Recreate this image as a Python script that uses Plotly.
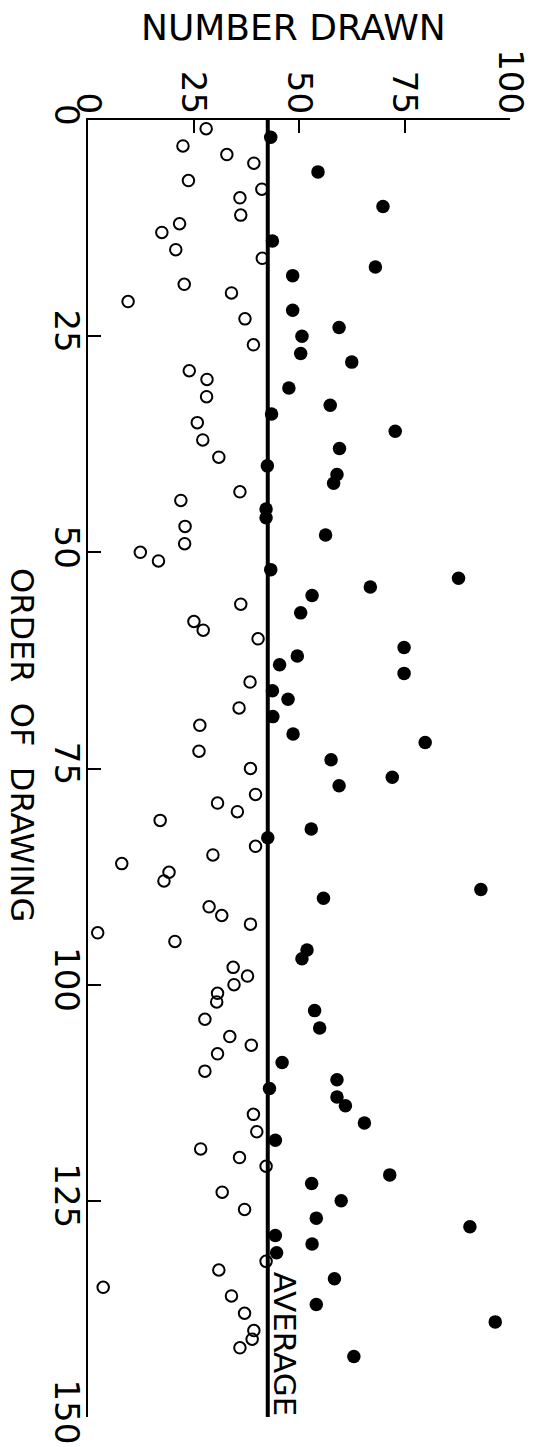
import plotly.graph_objects as go

# Order of drawing (1..143) and the number drawn at each draw
ORDER = list(range(1, 144))
NUMBER = [
    28.0, 43.3, 22.5, 32.9, 39.3, 54.5, 23.8, 41.2, 36.0, 69.9,
    36.2, 21.7, 17.5, 43.7, 20.8, 41.3, 68.1, 48.5, 22.8, 34.0,
    9.5, 48.5, 37.2, 59.5, 50.7, 39.2, 50.4, 62.5, 24.0, 28.2,
    47.6, 28.1, 57.4, 43.5, 25.9, 72.8, 27.2, 59.6, 31.0, 42.5,
    59.0, 58.2, 36.0, 22.0, 42.2, 42.2, 23.0, 56.3, 22.9, 12.4,
    16.7, 43.3, 87.8, 66.9, 53.1, 36.2, 50.4, 25.1, 27.3, 40.3,
    74.9, 49.6, 45.4, 74.9, 38.4, 43.7, 47.4, 35.8, 43.8, 26.5,
    48.6, 79.9, 26.3, 57.6, 38.5, 72.1, 59.5, 39.7, 30.7, 35.4,
    17.1, 52.9, 42.6, 39.7, 29.6, 8.0, 19.2, 18.0, 93.1, 55.8,
    28.7, 31.7, 38.5, 2.3, 20.6, 51.9, 50.7, 34.4, 37.8, 34.6,
    30.7, 30.5, 53.7, 27.7, 54.9, 33.6, 38.7, 30.7, 46.0, 27.7,
    59.0, 43.0, 59.0, 61.0, 39.2, 65.5, 40.0, 44.4, 26.7, 35.9,
    42.2, 71.5, 53.0, 31.8, 60.0, 37.1, 54.1, 90.5, 44.4, 53.1,
    44.7, 42.2, 31.0, 58.4, 3.6, 34.0, 54.1, 37.1, 96.5, 39.3,
    38.9, 36.0, 63.0,
]
# Draws shown as filled dots (at or above the average); the rest are open circles
FILLED_ORDERS = [
    2, 6, 10, 14, 17, 18, 22, 24, 25, 27, 28, 31, 33, 34, 36, 38, 40, 41, 42,
    45, 46, 48, 52, 53, 54, 55, 57, 61, 62, 63, 64, 66, 67, 69, 71, 72, 74,
    76, 77, 82, 83, 89, 90, 96, 97, 103, 105, 109, 111, 112, 113, 114, 116,
    118, 122, 123, 125, 127, 128, 129, 130, 131, 134, 137, 139, 143,
]
AVERAGE = 42.6

X_TICKS = [0, 25, 50, 75, 100]
Y_TICKS = [0, 25, 50, 75, 100, 125, 150]

FONT = "DejaVu Sans"

filled_set = set(FILLED_ORDERS)
fx = [n for o, n in zip(ORDER, NUMBER) if o in filled_set]
fy = [o for o in ORDER if o in filled_set]
ox = [n for o, n in zip(ORDER, NUMBER) if o not in filled_set]
oy = [o for o in ORDER if o not in filled_set]

fig = go.Figure()

fig.add_trace(go.Scatter(
    x=[AVERAGE, AVERAGE], y=[0, 150], mode="lines",
    line=dict(color="black", width=4), showlegend=False, hoverinfo="skip",
    cliponaxis=False,
))
fig.add_trace(go.Scatter(
    x=ox, y=oy, mode="markers",
    marker=dict(symbol="circle-open", size=11.5, color="black", line=dict(width=2, color="black")),
    showlegend=False, cliponaxis=False,
))
fig.add_trace(go.Scatter(
    x=fx, y=fy, mode="markers",
    marker=dict(symbol="circle", size=13.5, color="black"),
    showlegend=False, cliponaxis=False,
))

fig.update_layout(
    width=546, height=1447,
    margin=dict(l=88, r=36, t=120, b=30, autoexpand=False),
    paper_bgcolor="white", plot_bgcolor="white",
    font=dict(family=FONT, color="black"),
    xaxis=dict(
        range=[0, 100], side="top", tickvals=X_TICKS, ticktext=[str(v) for v in X_TICKS],
        ticks="inside", ticklen=13, tickwidth=2, tickcolor="black",
        tickangle=90, tickfont=dict(family=FONT, size=34, color="black"),
        ticklabelstandoff=-8,
        showline=True, linecolor="black", linewidth=2, mirror=False,
        showgrid=False, zeroline=False, automargin=False,
    ),
    yaxis=dict(
        range=[150, 0], tickvals=Y_TICKS, ticktext=[str(v) for v in Y_TICKS],
        ticks="inside", ticklen=13, tickwidth=2, tickcolor="black",
        tickangle=90, tickfont=dict(family=FONT, size=34, color="black"),
        ticklabelstandoff=-10,
        showline=True, linecolor="black", linewidth=2, mirror=False,
        showgrid=False, zeroline=False, automargin=False,
    ),
    annotations=[
        dict(text="NUMBER DRAWN", xref="paper", yref="paper",
             x=(293 - 88) / 422, y=1 + (120 - 28) / 1297,
             xanchor="center", yanchor="middle", showarrow=False,
             font=dict(family=FONT, size=36, color="black")),
        dict(text="ORDER  OF  DRAWING", xref="paper", yref="paper",
             x=(22 - 88) / 422, y=(1417 - 745) / 1297, textangle=90,
             xanchor="center", yanchor="middle", showarrow=False,
             font=dict(family=FONT, size=32, color="black")),
        dict(text="AVERAGE", xref="x", yref="y",
             x=46.6, y=141.6, textangle=90,
             xanchor="center", yanchor="middle", showarrow=False,
             font=dict(family=FONT, size=31, color="black")),
    ],
)

fig.write_html("out.html")
